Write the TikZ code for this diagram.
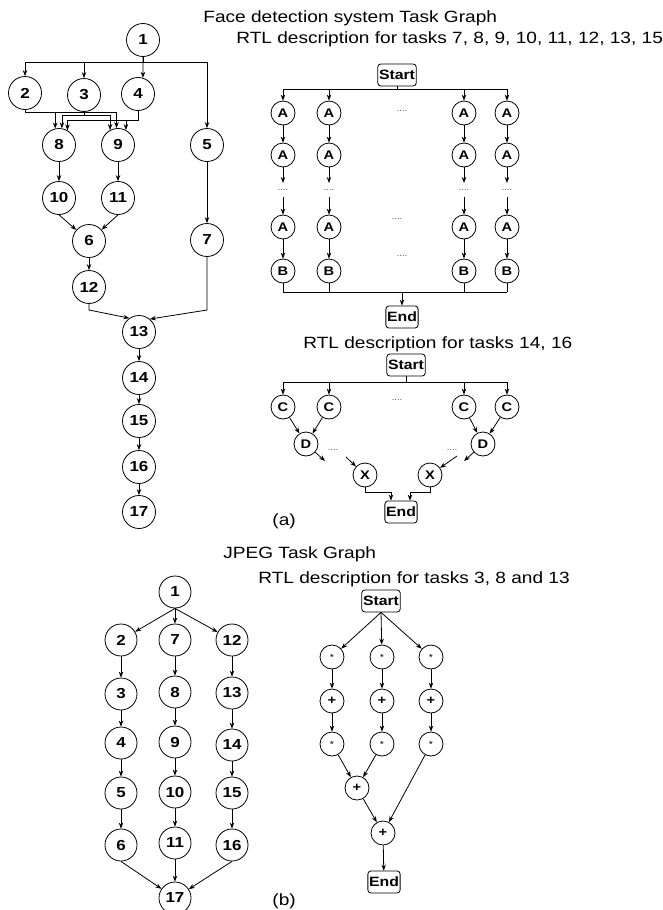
\documentclass[tikz,border=0pt]{standalone}
\usepackage{fontspec}
\setmainfont{Liberation Sans}[FakeStretch=1.17]
\usetikzlibrary{arrows.meta}
\begin{document}
\begin{tikzpicture}[x=1pt,y=-1pt,
  line width=0.8pt,
  arr/.style={-{Stealth[length=6pt,width=4.5pt]}},
  big/.style={circle,draw,minimum size=33pt,inner sep=0pt,font=\bfseries\fontsize{14.5}{15}\selectfont},
  jb/.style={circle,draw,minimum size=32pt,inner sep=0pt,font=\bfseries\fontsize{14.5}{15}\selectfont},
  sm/.style={circle,draw,minimum size=24pt,inner sep=0pt,font=\bfseries\fontsize{12.5}{13}\selectfont},
  smstar/.style={circle,draw,minimum size=24pt,inner sep=0pt,font=\fontsize{9}{9}\selectfont},
  term/.style={draw,rounded corners=3pt,inner sep=1.2pt,minimum height=22pt,font=\bfseries\fontsize{13.5}{14}\selectfont},
  ttl/.style={anchor=base west,inner sep=0pt,font=\fontsize{16.3}{18}\selectfont},
  dotsn/.style={inner sep=0pt,text=black!75,font=\fontsize{8}{8}\selectfont}
]
\useasboundingbox (0,0) rectangle (663,910);

% ---------------- Face detection task graph ----------------
\node[big] (n1) at (143,40) {1};
\node[big] (n2) at (25,93) {2};
\node[big] (n3) at (84,95) {3};
\node[big] (n4) at (138,94) {4};
\node[big] (n5) at (207,145) {5};
\node[big] (n8) at (59,145) {8};
\node[big] (n9) at (118,145) {9};
\node[big] (n10) at (59,198) {10};
\node[big] (n11) at (118,198) {11};
\node[big] (n6) at (89,241) {6};
\node[big] (n7) at (207,240) {7};
\node[big] (n12) at (89,287) {12};
\node[big] (n13) at (139,332) {13};
\node[big] (n14) at (139,378) {14};
\node[big] (n15) at (139,421) {15};
\node[big] (n16) at (139,467) {16};
\node[big] (n17) at (139,512) {17};

\coordinate (b1) at (143,62);
\draw (n1.south) -- (b1);
\draw[arr] (n1.south) -- (n4.73);
\draw[arr] (b1) -| (n2.north);
\draw[arr] (b1) -| (n3.north);
\draw[arr] (b1) -| (n5.north);

\draw[arr] (n2.south) |- (n9.95 |- 0,112) -- (n9.95);
\draw[arr] (n8.103 |- 0,112) -- (n8.103);
\draw (n3.south) -- (n3.south |- 0,115);
\draw[arr] (n3.south |- 0,115) -| (n8.80);
\draw[arr] (n3.south |- 0,115) -| (n9.118);
\draw[arr] (n4.south) |- (n8.60 |- 0,120) -- (n8.60);
\draw[arr] (n4.south) |- (n9.62 |- 0,120) -- (n9.62);

\draw[arr] (n8) -- (n10);
\draw[arr] (n9) -- (n11);
\draw[arr] (n10.south) -- (n6);
\draw[arr] (n11.south) -- (n6);
\draw[arr] (n6) -- (n12);
\draw[arr] (n5) -- (n7);
\draw[arr] (n12.south) -- (n12.south |- 0,310) -- (n13.125);
\draw[arr] (n7.south) -- (n7.south |- 0,310) -- (n13.50);
\draw[arr] (n13) -- (n14);
\draw[arr] (n14) -- (n15);
\draw[arr] (n15) -- (n16);
\draw[arr] (n16) -- (n17);

% titles
\node[ttl] (t1) at (203,23) {Face detection system Task Graph};
\node[ttl] (t2) at (236,43) {RTL description for tasks 7, 8, 9, 10, 11, 12, 13, 15};

% ---------------- RTL for tasks 7..15 ----------------
\node[term] (s1) at (397,75) {Start};
\foreach \c/\x in {1/283,2/329,3/464,4/507}{
  \node[sm] (a1\c) at (\x,113) {A};
  \node[sm] (a2\c) at (\x,155) {A};
  \coordinate (u\c) at (\x,183);
  \node[dotsn] (d\c) at (\x,190) {....};
  \coordinate (v\c) at (\x,197);
  \node[sm] (a3\c) at (\x,227) {A};
  \node[sm] (bb\c) at (\x,271) {B};
  \draw[arr] (a1\c.north |- 0,89) -- (a1\c.north);
  \draw[arr] (a1\c) -- (a2\c);
  \draw[arr] (a2\c) -- (u\c);
  \draw[arr] (v\c) -- (a3\c);
  \draw[arr] (a3\c) -- (bb\c);
  \draw (bb\c.south) -- (bb\c.south |- 0,292);
}
\draw (s1.south) -- (s1.south |- 0,89);
\draw (a11.north |- 0,89) -- (a14.north |- 0,89);
\draw (bb1.south |- 0,292) -- (bb4.south |- 0,292);
\node[term] (e1) at (402,317) {End};
\draw[arr] (e1.north |- 0,292) -- (e1.north);
\node[dotsn] (dd1) at (402,111) {....};
\node[dotsn] (dd2) at (397,219) {....};
\node[dotsn] (dd3) at (402,256) {....};

% ---------------- RTL for tasks 14, 16 ----------------
\node[ttl] (t3) at (303,348) {RTL description for tasks 14, 16};
\node[term] (s2) at (406,365) {Start};
\foreach \c/\x in {1/283,2/329,3/464,4/507}{
  \node[sm] (c\c) at (\x,407) {C};
  \draw[arr] (c\c.north |- 0,382) -- (c\c.north);
}
\draw (s2.south) -- (s2.south |- 0,382);
\draw (c1.north |- 0,382) -- (c4.north |- 0,382);
\node[dotsn] (dd4) at (397,400) {....};
\node[sm] (dl) at (306,444) {D};
\node[sm] (dr) at (483,444) {D};
\node[sm] (x1) at (365,475) {X};
\node[sm] (x2) at (430,475) {X};
\node[term] (e2) at (401,512) {End};
\draw[arr] (c1) -- (dl);
\draw[arr] (c2) -- (dl);
\draw[arr] (c3) -- (dr);
\draw[arr] (c4) -- (dr);
\coordinate (p1) at (325,461);
\coordinate (p2) at (346,457);
\coordinate (p3) at (464,461);
\coordinate (p4) at (457,456);
\draw[arr] (dl) -- (p1);
\draw[arr] (p2) -- (x1);
\draw[arr] (dr) -- (p3);
\draw[arr] (p4) -- (x2);
\node[dotsn] (dd5) at (333,450) {....};
\node[dotsn] (dd6) at (452,450) {....};
\draw[arr] (x1.south) |- ([xshift=-10pt]e2.north |- 0,492) -- ([xshift=-10pt]e2.north);
\draw[arr] (x2.south) |- ([xshift=9pt]e2.north |- 0,492) -- ([xshift=9pt]e2.north);
\node[ttl] (la) at (272,525) {(a)};

% ---------------- JPEG task graph ----------------
\node[ttl] (t4) at (223,558) {JPEG Task Graph};
\node[ttl] (t5) at (258,583) {RTL description for tasks 3, 8 and 13};
\node[jb] (j1) at (175,592) {1};
\foreach \n/\x/\y in {2/121/640,3/121/694,4/121/743,5/121/793,6/121/845,
                      7/175/640,8/175/692,9/175/742,10/175/792,11/175/843,
                      12/232/640,13/232/693,14/232/745,15/232/793,16/232/845}{
  \node[jb] (j\n) at (\x,\y) {\n};
}
\node[jb] (j17) at (175,898) {17};
\draw[arr] (j1.south) -- (j2);
\draw[arr] (j1) -- (j7);
\draw[arr] (j1.south) -- (j12);
\foreach \a/\b in {2/3,3/4,4/5,5/6,7/8,8/9,9/10,10/11,12/13,13/14,14/15,15/16}{
  \draw[arr] (j\a) -- (j\b);
}
\draw[arr] (j6.south) -- (j17);
\draw[arr] (j11) -- (j17);
\draw[arr] (j16.south) -- (j17);
\node[ttl] (lb) at (272,905) {(b)};

% ---------------- RTL for tasks 3, 8, 13 ----------------
\node[term] (s3) at (381,601) {Start};
\foreach \c/\x in {1/332,2/382,3/431}{
  \node[smstar] (m\c1) at (\x,657) {*};
  \node[sm] (q\c) at (\x,701) {+};
  \node[smstar] (m\c3) at (\x,744) {*};
  \draw[arr] (s3.south) -- (m\c1);
  \draw[arr] (m\c1) -- (q\c);
  \draw[arr] (q\c) -- (m\c3);
}
\node[sm] (pm) at (357,788) {+};
\node[sm] (pl) at (383,833) {+};
\node[term] (e3) at (384,882) {End};
\draw[arr] (m13) -- (pm);
\draw[arr] (m23) -- (pm);
\draw[arr] (pm) -- (pl);
\draw[arr] (m33) -- (pl);
\draw[arr] (pl) -- (e3);
\end{tikzpicture}
\end{document}
